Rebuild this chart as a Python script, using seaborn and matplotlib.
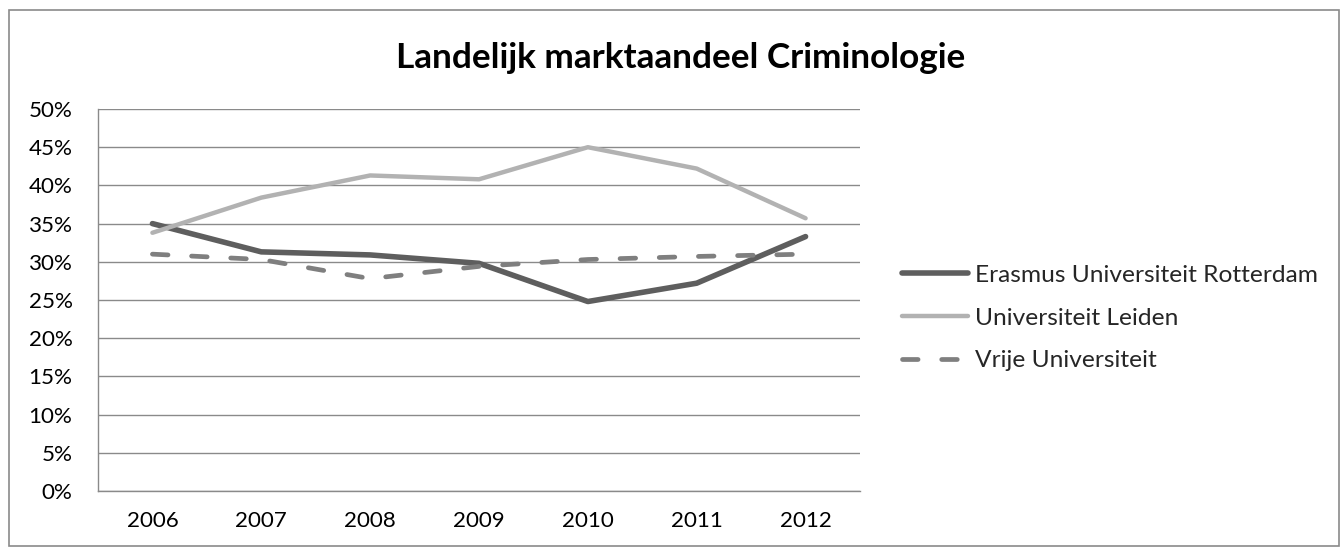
import matplotlib
matplotlib.use("Agg")
import matplotlib.pyplot as plt
import matplotlib.patches as mpatches
from matplotlib.ticker import FixedLocator, PercentFormatter
import seaborn as sns
import pandas as pd

years = ["2006", "2007", "2008", "2009", "2010", "2011", "2012"]
erasmus = [35.0, 31.3, 30.9, 29.8, 24.8, 27.2, 33.3]
leiden = [33.8, 38.4, 41.3, 40.8, 45.0, 42.2, 35.7]
vrije = [31.0, 30.3, 27.8, 29.4, 30.3, 30.7, 31.0]
series_names = ["Erasmus Universiteit Rotterdam", "Universiteit Leiden", "Vrije Universiteit"]
title = "Landelijk marktaandeel Criminologie"

rows = []
for name, vals in zip(series_names, [erasmus, leiden, vrije]):
    for i, v in enumerate(vals):
        rows.append({"idx": i, "value": v, "series": name})
df = pd.DataFrame(rows)

sns.set_theme(style="white")
plt.rcParams["font.family"] = ["Lato", "DejaVu Sans"]

W, H = 1341, 548
fig = plt.figure(figsize=(W / 100, H / 100), dpi=100)
renderer = fig.canvas.get_renderer()


def fit_size(text, target_px, weight="normal", base=20.0):
    t = fig.text(0, 0, text, fontsize=base, fontweight=weight)
    w = t.get_window_extent(renderer).width
    t.remove()
    return base * target_px / w


title_fs = fit_size(title, 569, weight="bold")
tick_fs = fit_size("2006", 52)
leg_fs = fit_size(series_names[0], 343)

ax = fig.add_axes([98 / W, 1 - 491 / H, (860 - 98) / W, (491 - 109) / H])

palette = {series_names[0]: "#5e5e5e", series_names[1]: "#b2b2b2", series_names[2]: "#7f7f7f"}
dashes = {series_names[0]: "", series_names[1]: "", series_names[2]: (3.3, 5.0)}
sizes = {series_names[0]: 4.0, series_names[1]: 3.2, series_names[2]: 3.4}

sns.lineplot(data=df, x="idx", y="value", hue="series", style="series", size="series",
             palette=palette, dashes=dashes, sizes=sizes, ax=ax, legend=False,
             hue_order=series_names, style_order=series_names, size_order=series_names)

for l in ax.lines:
    l.set_solid_capstyle("round")
    l.set_dash_capstyle("round")
    l.set_solid_joinstyle("round")
    l.set_dash_joinstyle("round")

grid_c = "#8a8a8a"
ax.set_xlim(-0.5, 6.5)
ax.set_ylim(0, 50)
ax.set_xlabel("")
ax.set_ylabel("")
ax.set_xticks(range(len(years)))
ax.set_xticklabels(years)
ax.xaxis.set_minor_locator(FixedLocator([i - 0.5 for i in range(len(years) + 1)]))
ax.tick_params(axis="x", which="major", length=0, labelsize=tick_fs, pad=14.5, colors="#000000")
ax.tick_params(axis="x", which="minor", length=5.8, width=1, color=grid_c, direction="out")
ax.set_yticks(range(0, 51, 5))
ax.yaxis.set_major_formatter(PercentFormatter(decimals=0))
ax.tick_params(axis="y", which="major", length=5.8, width=1, color=grid_c, direction="out",
               labelsize=tick_fs, pad=12.5, labelcolor="#000000")
ax.grid(axis="y", color=grid_c, linewidth=1)
ax.grid(axis="x", visible=False)
for s in ["top", "right"]:
    ax.spines[s].set_visible(False)
for s in ["left", "bottom"]:
    ax.spines[s].set_color(grid_c)
    ax.spines[s].set_linewidth(1)

fig.text(681 / W, 1 - 58 / H, title, ha="center", va="center", fontsize=title_fs,
         fontweight="bold", color="#000000")

leg_px = leg_fs * 100 / 72
h2 = [plt.Line2D([], [], color=palette[n], linewidth=sizes[n], solid_capstyle="round",
                 dash_capstyle="round", linestyle="-" if not dashes[n] else (0, dashes[n]))
      for n in series_names]
leg = fig.legend(h2, series_names, loc="center left", bbox_to_anchor=(902 / W, 1 - 318 / H),
                 frameon=False, fontsize=leg_fs, handlelength=66 / leg_px, handletextpad=7 / leg_px,
                 labelspacing=(51 - leg_px * 1.2) / leg_px, borderaxespad=0, borderpad=0)

fig.patches.append(mpatches.Rectangle((9 / W, 2 / H), (1339 - 9) / W, (538 - 2) / H,
                                      transform=fig.transFigure, fill=False, edgecolor=grid_c,
                                      linewidth=1.2))

fig.savefig("out.png", dpi=100, facecolor="white")
